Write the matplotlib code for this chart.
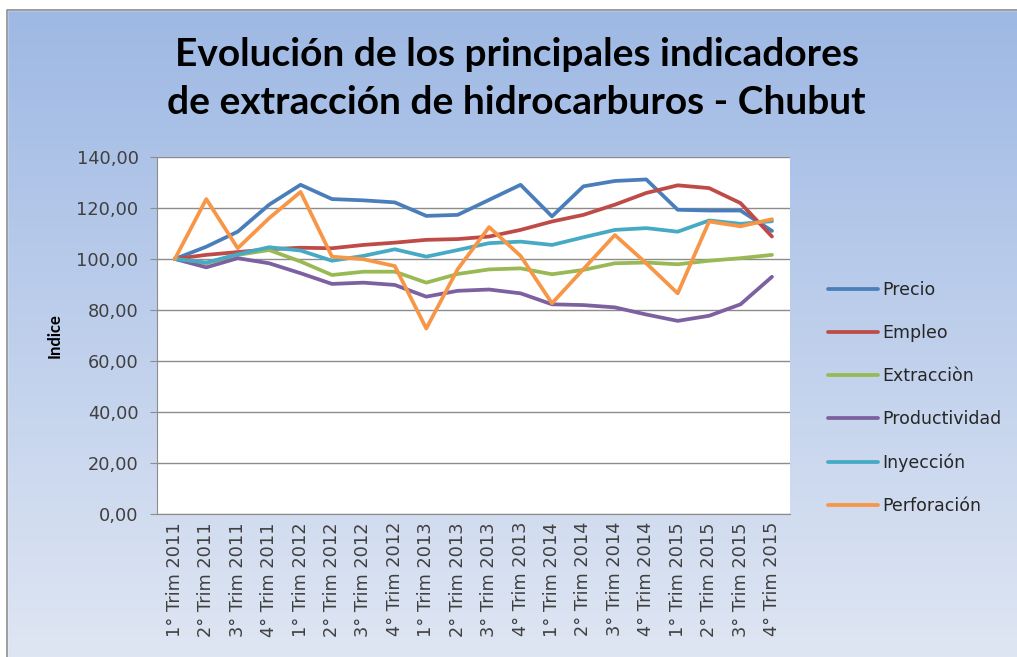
import matplotlib
matplotlib.use("Agg")
import matplotlib.pyplot as plt
import numpy as np
from matplotlib.colors import LinearSegmentedColormap
from matplotlib.patches import Rectangle

plt.rcParams['font.family'] = ['Lato', 'DejaVu Sans']

# Data
trimestres = [f"{q}° Trim {y}" for y in range(2011, 2016) for q in range(1, 5)]

precio = [100.0, 104.8, 110.7, 121.3, 129.1, 123.5, 123.0, 122.2, 116.9, 117.3,
          123.2, 129.1, 116.7, 128.5, 130.6, 131.2, 119.3, 119.0, 119.0, 111.0]
empleo = [100.0, 101.6, 102.7, 103.8, 104.4, 104.2, 105.5, 106.4, 107.5, 107.8,
          108.8, 111.4, 114.7, 117.3, 121.3, 125.9, 128.9, 127.8, 121.9, 108.8]
extraccion = [100.0, 98.3, 101.6, 103.5, 99.0, 93.7, 95.0, 95.0, 90.7, 94.1,
              95.9, 96.3, 94.0, 95.7, 98.3, 98.6, 97.9, 99.3, 100.3, 101.6]
productividad = [100.0, 96.7, 100.3, 98.3, 94.4, 90.2, 90.7, 89.8, 85.2, 87.5,
                 88.0, 86.5, 82.2, 81.9, 81.0, 78.2, 75.7, 77.7, 82.2, 93.0]
inyeccion = [100.0, 98.6, 101.8, 104.6, 103.3, 99.3, 101.2, 103.8, 100.9, 103.5,
             106.2, 106.8, 105.5, 108.5, 111.4, 112.1, 110.7, 115.1, 113.8, 114.8]
perforacion = [100.0, 123.5, 104.2, 116.0, 126.3, 100.9, 99.9, 97.2, 72.7, 96.0,
               112.5, 101.2, 82.6, 96.0, 109.4, 98.3, 86.5, 114.7, 112.8, 115.6]

series = [
    ("Precio", precio, "#4A7EBB"),
    ("Empleo", empleo, "#BE4B48"),
    ("Extracciòn", extraccion, "#98B954"),
    ("Productividad", productividad, "#7D60A0"),
    ("Inyección", inyeccion, "#46AAC5"),
    ("Perforación", perforacion, "#F79646"),
]

fig = plt.figure(figsize=(10.17, 6.57), dpi=100)

# gradient background of the chart area
bg = fig.add_axes([0, 0, 1, 1], zorder=-10)
cmap = LinearSegmentedColormap.from_list("bg", ["#dfe6f3", "#9db8e4"])
grad = np.linspace(0, 1, 256).reshape(-1, 1)
bg.imshow(grad, aspect="auto", cmap=cmap, origin="lower",
          extent=[0, 1, 0, 1])
bg.set_xlim(0, 1)
bg.set_ylim(0, 1)
bg.axis("off")
# white margin on top/left and grey border
bg.add_patch(Rectangle((0, 0.985), 1, 0.015, color="white", zorder=2))
bg.add_patch(Rectangle((0, 0), 0.007, 1, color="white", zorder=2))
bg.plot([0.007, 0.007, 1.0], [0.0, 0.985, 0.985], color="#8c8c8c", lw=1.2, zorder=3)

ax = fig.add_axes([0.154, 0.218, 0.623, 0.543])
x = np.arange(len(trimestres))
for name, vals, col in series:
    ax.plot(x, vals, color=col, lw=2.7, label=name, solid_joinstyle="round",
            solid_capstyle="round")

tick_font = ['DejaVu Sans']
ax.set_xlim(-0.58, len(trimestres) - 0.42)
ax.set_ylim(0, 140)
ax.set_yticks(np.arange(0, 141, 20))
ax.set_yticklabels([f"{v:.2f}".replace(".", ",") for v in np.arange(0, 141, 20)],
                   fontsize=12.8, color="#404040", family=tick_font)
ax.set_xticks(x)
ax.set_xticklabels(trimestres, rotation=90, fontsize=12.8, color="#404040",
                   family=tick_font)
ax.tick_params(axis="x", length=0, pad=6)
ax.tick_params(axis="y", length=5, color="#8c8c8c", direction="out", pad=8)
ax.grid(axis="y", color="#8c8c8c", lw=1)
ax.set_axisbelow(True)
ax.set_facecolor("white")
for s in ["top", "right"]:
    ax.spines[s].set_visible(False)
for s in ["left", "bottom"]:
    ax.spines[s].set_color("#8c8c8c")

ax.set_ylabel("Indice", fontsize=12, fontweight="bold", labelpad=10)

fig.text(0.508, 0.88, "Evolución de los principales indicadores\nde extracción de hidrocarburos - Chubut",
         ha="center", va="center", fontsize=28, fontweight="bold",
         linespacing=1.45, color="black")

ax.legend(loc="center left", bbox_to_anchor=(1.035, 0.325), frameon=False,
          prop={"family": tick_font, "size": 12.5}, handlelength=2.9,
          handletextpad=0.2, labelspacing=1.45, labelcolor="#262626")

fig.savefig("out.png", dpi=100)
